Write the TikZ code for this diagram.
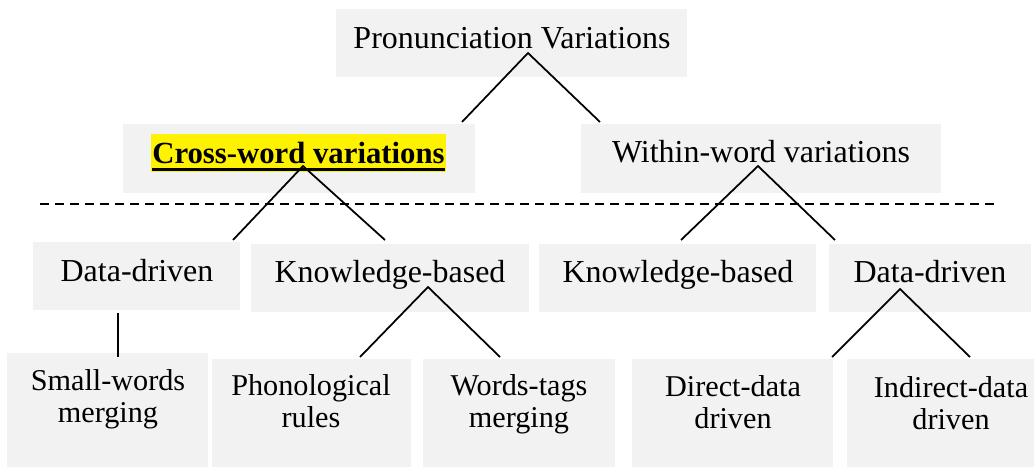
\documentclass[tikz,border=0pt]{standalone}
\usepackage{fontspec}
\setmainfont{Liberation Serif}
\usetikzlibrary{fit}
\definecolor{boxgray}{RGB}{242,242,242}
\newcommand{\thickul}[1]{\setbox0\hbox{#1}\rlap{\rule[-4.5pt]{\wd0}{1.6pt}}\box0}
\tikzset{
  box/.style={fill=boxgray, inner sep=0pt},
  lbl/.style={anchor=base, inner sep=0pt, font=\fontsize{18.2}{18.2}\selectfont},
  leaf/.style={lbl, align=center, font=\fontsize{17.2}{18.2}\selectfont},
  link/.style={line width=1pt},
}

\begin{document}
\begin{tikzpicture}[x=0.02cm, y=-0.02cm]
    \useasboundingbox (0,0) rectangle (1034,467);
    % grey boxes
    \foreach \n/\xa/\ya/\xb/\yb in {pv/336/9/687/77, cw/123/124/475/193, ww/581/124/941/193,
        dda/33/242/240/310, kba/251/244/529/312, kbb/539/244/816/312, ddb/829/244/1031/312,
        sw/7/353/208/467, pr/212/359/411/467, wt/423/359/615/467, dr/632/359/833/467, id/847/359/1034/467}
        \node[box, fit={(\xa,\ya) (\xb,\yb)}] (\n) {};
    % labels (two-line ones sit on their last baseline)
    \node[lbl] (pvt) at (512,48) {Pronunciation Variations};
    \node[lbl, font=\fontsize{17.5}{18.2}\selectfont, fill=yellow, inner xsep=1pt, text height=0.58cm, text depth=0.18cm] (cwt) at (298.5,163) {\textbf{\thickul{Cross-word variations}}};
    \node[lbl] (wwt) at (761,162) {Within-word variations};
    \node[lbl] (ddat) at (137,281) {Data-driven};
    \node[lbl] (kbat) at (390,282) {Knowledge-based};
    \node[lbl] (kbbt) at (678,282) {Knowledge-based};
    \node[lbl] (ddbt) at (930,282) {Data-driven};
    \node[leaf] (swt) at (108,422) {Small-words\\merging};
    \node[leaf] (prt) at (311,427) {Phonological\\rules};
    \node[leaf] (wtt) at (519,427) {Words-tags\\merging};
    \node[leaf] (drt) at (733,428) {Direct-data\\driven};
    \node[leaf] (idt) at (951,429) {Indirect-data\\driven};
    % connector ends
    \coordinate (pvtip) at (528,53);  \coordinate (cwtop) at (462,122);  \coordinate (wwtop) at (600,122);
    \coordinate (cwtip) at (303,166); \coordinate (ddatop) at (233,240); \coordinate (kbatop) at (385,240);
    \coordinate (wwtip) at (758,166); \coordinate (kbbtop) at (681,240); \coordinate (ddbtop) at (835,240);
    \coordinate (kbatip) at (428,287); \coordinate (prtop) at (360,357); \coordinate (wttop) at (500,357);
    \coordinate (ddbtip) at (900,289); \coordinate (drtop) at (832,357); \coordinate (idtop) at (970,357);
    \coordinate (ddabot) at (118,313); \coordinate (swtop) at (118,357);
    \coordinate (dashl) at (40,204);  \coordinate (dashr) at (997,204);
    % connectors
    \draw[link] (cwtop) -- (pvtip) -- (wwtop);
    \draw[link] (ddatop) -- (cwtip) -- (kbatop);
    \draw[link] (kbbtop) -- (wwtip) -- (ddbtop);
    \draw[link] (prtop) -- (kbatip) -- (wttop);
    \draw[link] (drtop) -- (ddbtip) -- (idtop);
    \draw[link] (ddabot) -- (swtop);
    \draw[line width=1.4pt, dash pattern=on 0.18cm off 0.12cm] (dashl) -- (dashr);
\end{tikzpicture}
\end{document}
